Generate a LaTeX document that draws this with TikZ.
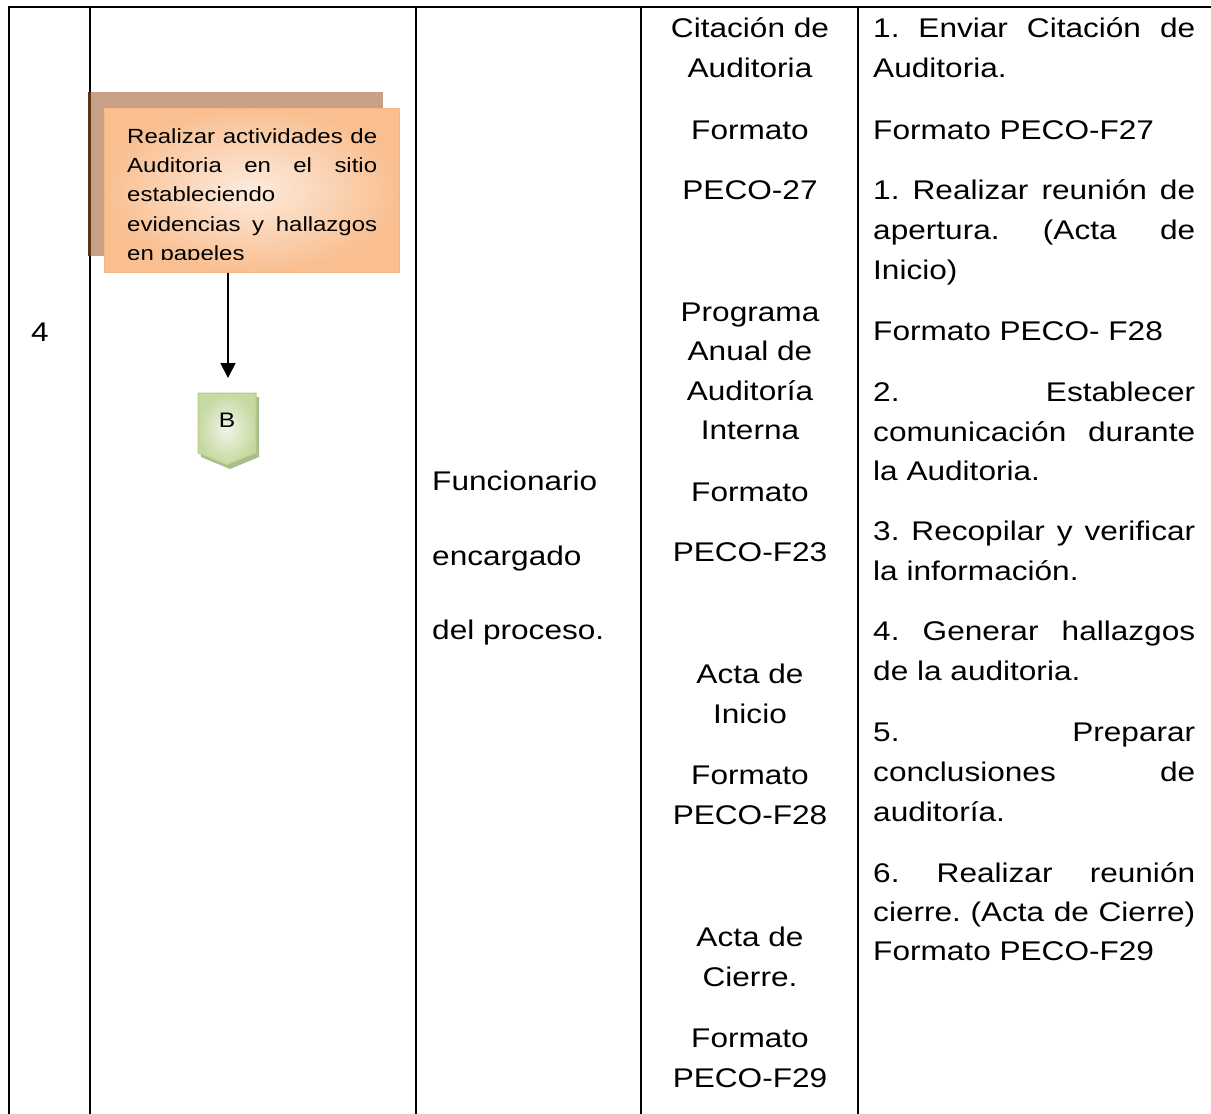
\documentclass[tikz,border=0pt]{standalone}
\usepackage{fontspec}
\setmainfont{Liberation Sans}[FakeStretch=1.17]
\usetikzlibrary{arrows.meta}
\definecolor{shbrown}{HTML}{C9A186}
\definecolor{dkbrown}{HTML}{5C3317}
\definecolor{orL}{HTML}{FDEBDD}
\definecolor{orD}{HTML}{F9BF91}
\definecolor{orB}{HTML}{F7B583}
\definecolor{grL}{HTML}{F0F5E8}
\definecolor{grD}{HTML}{C6D9A0}
\definecolor{grB}{HTML}{B5CC8A}
\definecolor{grS}{HTML}{A9BC8C}
\frenchspacing
\begin{document}
\begin{tikzpicture}[x=1pt,y=-1pt,
  gridline/.style={line width=2pt, black},
  maintxt/.style={font=\fontsize{27}{38}\selectfont, inner sep=0pt},
  boxtxt/.style={font=\fontsize{20.5}{29}\selectfont, inner sep=0pt, anchor=base west},
  ctr/.style={maintxt, anchor=base},
  lft/.style={maintxt, anchor=base west}]
\useasboundingbox (0,0) rectangle (1211,1114);
\fill[white] (0,0) rectangle (1211,1114);
% table grid
\draw[gridline] (9,1114) -- (9,7) -- (1211,7);
\foreach \x in {90,416,641,858} \draw[gridline] (\x,7) -- (\x,1114);
% column 1
\node[ctr] (num) at (40,341) {4};
% process box
\fill[shbrown] (88,92) rectangle (383,256);
\fill[dkbrown] (88,92) rectangle (90.5,256);
\node[draw=orB, line width=1pt, inner color=orL, outer color=orD, minimum width=295pt, minimum height=164pt, inner sep=0pt] (task) at (251.5,190) {};
\begin{scope}
\clip (104,108) rectangle (399,259.5);
\node[boxtxt] (t1) at (127,143) {\makebox[250pt][s]{Realizar actividades de}};
\node[boxtxt] (t2) at (127,172) {\makebox[250pt][s]{Auditoria en el sitio}};
\node[boxtxt] (t3) at (127,201.5) {estableciendo};
\node[boxtxt] (t4) at (127,231) {\makebox[250pt][s]{evidencias y hallazgos}};
\node[boxtxt] (t5) at (127,260) {en papeles};
\end{scope}
% arrow and connector B
\coordinate (tip) at (228,378);
\draw[line width=1.8pt, -{Triangle[length=15pt,width=15pt]}] (task.south -| tip) -- (tip);
\fill[grS] (201,397) -- (259,397) -- (259,457) -- (230,469) -- (201,457) -- cycle;
\shade[inner color=grL, outer color=grD, draw=grB, line width=1pt] (198,393) -- (256,393) -- (256,453) -- (227,465) -- (198,453) -- cycle;
\node[font=\fontsize{21}{21}\selectfont, inner sep=0pt, anchor=base] (B) at (227,427) {B};
% column 3
\node[lft] (f1) at (432,490) {Funcionario};
\node[lft] (f2) at (432,565) {encargado};
\node[lft] (f3) at (432,639) {del proceso.};
% column 4
\node[ctr] (c1) at (750,37) {Citación de};
\node[ctr] (c2) at (750,77) {Auditoria};
\node[ctr] (c3) at (750,139) {Formato};
\node[ctr] (c4) at (750,199) {PECO-27};
\node[ctr] (c5) at (750,321) {Programa};
\node[ctr] (c6) at (750,360) {Anual de};
\node[ctr] (c7) at (750,400) {Auditoría};
\node[ctr] (c8) at (750,439) {Interna};
\node[ctr] (c9) at (750,501) {Formato};
\node[ctr] (c10) at (750,561) {PECO-F23};
\node[ctr] (c11) at (750,683) {Acta de};
\node[ctr] (c12) at (750,723) {Inicio};
\node[ctr] (c13) at (750,784) {Formato};
\node[ctr] (c14) at (750,824) {PECO-F28};
\node[ctr] (c15) at (750,946) {Acta de};
\node[ctr] (c16) at (750,986) {Cierre.};
\node[ctr] (c17) at (750,1047) {Formato};
\node[ctr] (c18) at (750,1087) {PECO-F29};
% column 5
\node[lft] (d1) at (873,37) {\makebox[322pt][s]{1. Enviar Citación de}};
\node[lft] (d2) at (873,77) {Auditoria.};
\node[lft] (d3) at (873,139) {Formato PECO-F27};
\node[lft] (d4) at (873,199) {\makebox[322pt][s]{1. Realizar reunión de}};
\node[lft] (d5) at (873,239) {\makebox[322pt][s]{apertura. (Acta de}};
\node[lft] (d6) at (873,279) {Inicio)};
\node[lft] (d7) at (873,340) {Formato PECO- F28};
\node[lft] (d8) at (873,401) {\makebox[322pt][s]{2. Establecer}};
\node[lft] (d9) at (873,441) {\makebox[322pt][s]{comunicación durante}};
\node[lft] (d10) at (873,480) {la Auditoria.};
\node[lft] (d11) at (873,540) {\makebox[322pt][s]{3. Recopilar y verificar}};
\node[lft] (d12) at (873,580) {la información.};
\node[lft] (d13) at (873,640) {\makebox[322pt][s]{4. Generar hallazgos}};
\node[lft] (d14) at (873,680) {de la auditoria.};
\node[lft] (d15) at (873,741) {\makebox[322pt][s]{5. Preparar}};
\node[lft] (d16) at (873,781) {\makebox[322pt][s]{conclusiones de}};
\node[lft] (d17) at (873,821) {auditoría.};
\node[lft] (d18) at (873,882) {\makebox[322pt][s]{6. Realizar reunión}};
\node[lft] (d19) at (873,921) {\makebox[322pt][s]{cierre. (Acta de Cierre)}};
\node[lft] (d20) at (873,960) {Formato PECO-F29};
\end{tikzpicture}
\end{document}
